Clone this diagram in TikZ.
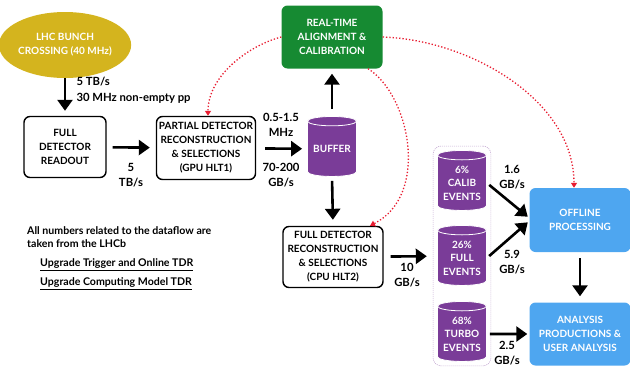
\documentclass[tikz,border=0pt]{standalone}
\usepackage{fontspec}
\setmainfont{Lato}
\usetikzlibrary{arrows.meta, positioning, shapes.geometric, fit}
\definecolor{lhcgold}{RGB}{212, 180, 30}
\definecolor{rtgreen}{RGB}{22, 138, 50}
\definecolor{bufpurple}{RGB}{122, 60, 152}
\definecolor{offblue}{RGB}{78, 166, 240}
\definecolor{calred}{RGB}{232, 28, 48}

\begin{document}
\begin{tikzpicture}[x=1pt, y=-1pt,
  font=\fontsize{10}{14}\selectfont\bfseries,
  box/.style={draw, line width=1.4pt, rounded corners=6pt, align=center,
    minimum width=82pt, minimum height=61pt, inner sep=1pt},
  colbox/.style={fill=#1, text=white, rounded corners=6pt, align=center,
    minimum width=101pt, minimum height=63pt, inner sep=1pt},
  store/.style={cylinder, shape border rotate=90, aspect=0.25, fill=bufpurple,
    draw=white, line width=0.8pt, text=white, align=center,
    minimum width=49pt, minimum height=60pt, inner sep=0pt},
  flow/.style={line width=2.6pt, -{Triangle[length=11pt, width=15pt]}},
  feed/.style={calred, line width=1.3pt, dotted, -{Triangle[length=5pt, width=6pt]}},
  rate/.style={align=center, font=\fontsize{11.3}{15.5}\selectfont\bfseries},
  note/.style={inner sep=0pt, font=\fontsize{10.6}{13.5}\selectfont\bfseries},
]
\useasboundingbox (0,0) rectangle (630,370);

% Trigger chain
\node[ellipse, fill=lhcgold, text=white, align=center, minimum width=116pt,
  minimum height=66pt, inner sep=0pt] (lhc) at (65,45) {LHC BUNCH\\CROSSING (40 MHz)};
\node[box] (readout) at (65,147) {FULL\\DETECTOR\\READOUT};
\node[box, minimum width=99pt, minimum height=63pt] (hlt1) at (206,148)
  {PARTIAL DETECTOR\\RECONSTRUCTION\\\& SELECTIONS\\(GPU HLT1)};
\node[store] (buffer) at (332,149) {BUFFER};
\node[colbox=rtgreen] (align) at (332,37) {REAL-TIME\\ALIGNMENT \&\\CALIBRATION};
\node[box, minimum width=100pt] (hlt2) at (333,257)
  {FULL DETECTOR\\RECONSTRUCTION\\\& SELECTIONS\\(CPU HLT2)};

% Output streams
\node[store, font=\fontsize{10}{13.5}\selectfont\bfseries] (calib) at (462,183) {6\%\\CALIB\\EVENTS};
\node[store, font=\fontsize{10}{13.5}\selectfont\bfseries] (full) at (462,258) {26\%\\FULL\\EVENTS};
\node[store, font=\fontsize{10}{13.5}\selectfont\bfseries] (turbo) at (462,334) {68\%\\TURBO\\EVENTS};
\foreach \c in {buffer, calib, full, turbo}
  \draw[white, line width=0.8pt] (\c.after top) arc[start angle=180, end angle=360,
    x radius=24.5pt, y radius=6pt];
\node[draw=bufpurple!45, line width=0.6pt, dash pattern=on 1pt off 1pt,
  rounded corners=8pt, fit=(calib)(turbo), inner sep=4pt] (streams) {};

% Offline
\node[colbox=offblue, minimum height=64pt] (offline) at (580,220) {OFFLINE\\PROCESSING};
\node[colbox=offblue] (analysis) at (580,334) {ANALYSIS\\PRODUCTIONS \&\\USER ANALYSIS};

% Data flow
\draw[flow, shorten >=5pt] (lhc) -- (readout);
\draw[flow, shorten <=6pt, shorten >=6pt] (readout) -- (hlt1);
\draw[flow, shorten <=9pt, shorten >=5pt] (hlt1) -- (buffer);
\draw[flow, shorten <=7pt, shorten >=5pt] (buffer.top) -- (align.south);
\draw[flow, shorten <=4pt, shorten >=6pt] (buffer.bottom) -- (hlt2.north);
\draw[flow, shorten <=7pt, shorten >=6pt] (hlt2) -- (streams);
\draw[flow, shorten <=3pt, shorten >=2pt] (calib.east) -- ([yshift=2pt]offline.west);
\draw[flow, shorten <=3pt, shorten >=2pt] (full.east) -- ([yshift=-1pt]offline.west);
\draw[flow, shorten <=3pt, shorten >=2pt] (turbo.east) -- (analysis.west);
\draw[flow, shorten <=6pt, shorten >=6pt] (offline) -- (analysis);

% Rates
\node[rate, anchor=west, align=left] (lhcrate) at (73,90) {5 TB/s\\30 MHz non-empty pp};
\node[rate] (rate1) at (131,175) {5\\TB/s};
\node[rate] (freq2) at (281,125) {0.5-1.5\\MHz};
\node[rate] (rate2) at (281,175) {70-200\\GB/s};
\node[rate] (rate3) at (407,275) {10\\GB/s};
\node[rate] (rate4) at (512,177) {1.6\\GB/s};
\node[rate] (rate5) at (512,262) {5.9\\GB/s};
\node[rate] (rate6) at (507,353) {2.5\\GB/s};

% Alignment feedback
\draw[feed] (align.west) .. controls (250,45) and (208,75) .. ([xshift=2pt]hlt1.north);
\draw[feed] ([xshift=36pt]align.south) .. controls (410,95) and (430,195)
  .. ([xshift=37pt]hlt2.north);
\draw[feed] (align.east) .. controls (470,40) and (574,100) .. ([xshift=-6pt]offline.north);

% Note
\node[note, anchor=north west, align=left] (info) at (27,226)
  {All numbers related to the dataflow are\\taken from the LHCb};
\node[note, anchor=west] (tdr1) at (40,265) {\underline{Upgrade Trigger and Online TDR}};
\node[note, anchor=west] (tdr2) at (40,284) {\underline{Upgrade Computing Model TDR}};
\end{tikzpicture}
\end{document}
